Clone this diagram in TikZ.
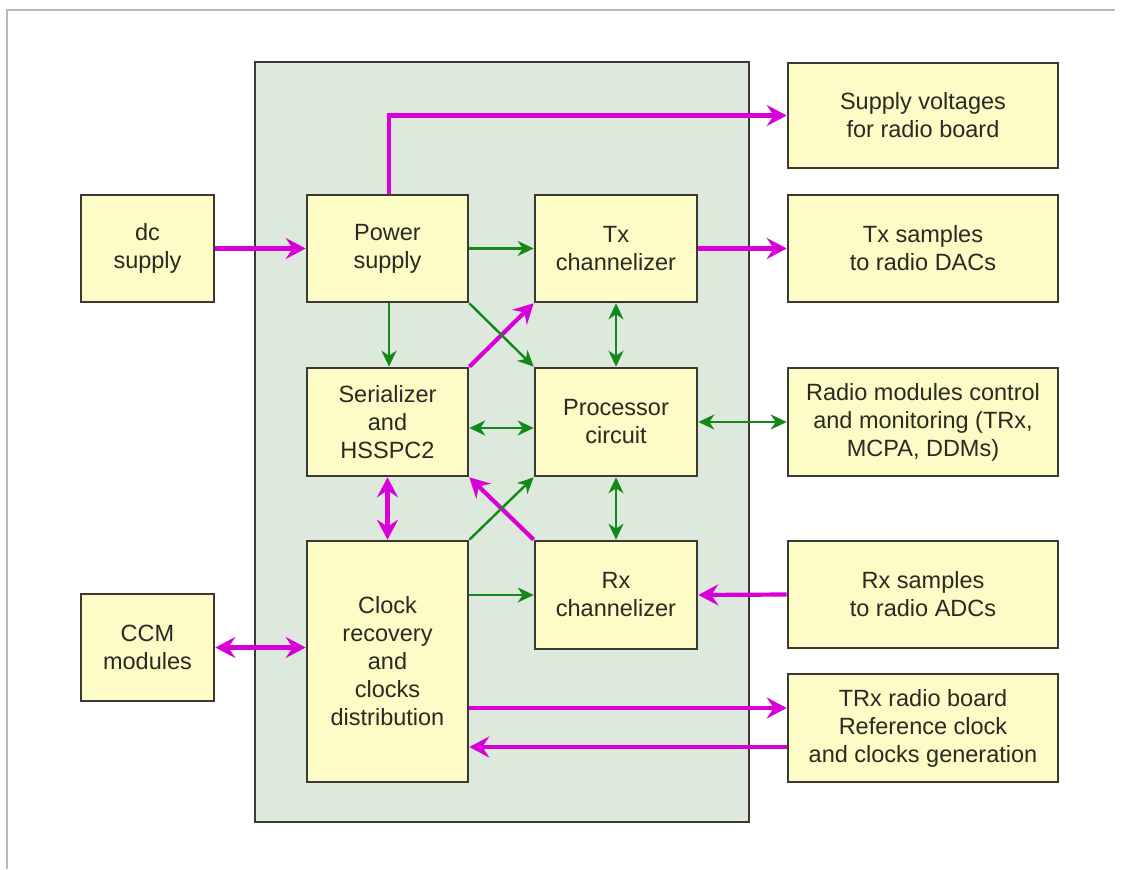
\documentclass[tikz,border=0pt]{standalone}
\usepackage{fontspec}
\setmainfont{Liberation Sans}
\usetikzlibrary{arrows.meta}

\definecolor{panelfill}{HTML}{DDE9DD}
\definecolor{boxfill}{HTML}{FDFBC6}
\definecolor{boxline}{HTML}{3A3A32}
\definecolor{sigmag}{HTML}{D800D8}
\definecolor{ctlgreen}{HTML}{15881A}
\definecolor{txtcol}{HTML}{2A2A22}
\definecolor{framegray}{HTML}{B8B8B8}

\tikzset{
  sigtip/.tip={Stealth[length=20pt,width=21pt,inset=7pt]},
  ctltip/.tip={Stealth[length=16pt,width=15pt,inset=5pt]}
}

\begin{document}
\begin{tikzpicture}[x=1pt,y=-1pt,
  block/.style={draw=boxline, fill=boxfill, line width=2.6pt, inner sep=0pt,
    align=center, text=txtcol,
    font=\fontsize{23.5}{28}\selectfont},
  sig/.style={draw=sigmag, line width=4.2pt, -sigtip},
  sigboth/.style={sig, sigtip-sigtip},
  ctl/.style={draw=ctlgreen, line width=2.4pt, -ctltip},
  ctlboth/.style={ctl, ctltip-ctltip}
]
\useasboundingbox (0,0) rectangle (1123,869);
\fill[white] (0,0) rectangle (1123,869);

% thin page frame
\draw[framegray, line width=2pt] (7,869) -- (7,10) -- (1115,10);

% channel card panel
\draw[draw=boxline, fill=panelfill, line width=2.6pt] (255,62) rectangle (749,822);

% external blocks, left side
\node[block, minimum width=133pt, minimum height=107pt] (dc)  at (147.5,248.5) {dc\\supply};
\node[block, minimum width=133pt, minimum height=107pt] (ccm) at (147.5,647.5) {CCM\\modules};

% blocks on the card
\node[block, minimum width=161pt, minimum height=107pt] (ps)   at (387.5,248.5) {Power\\supply};
\node[block, minimum width=162pt, minimum height=107pt] (tx)   at (616,248.5)   {Tx\\channelizer};
\node[block, minimum width=161pt, minimum height=108pt] (ser)  at (387.5,422)   {Serializer\\and\\HSSPC2};
\node[block, minimum width=162pt, minimum height=108pt] (proc) at (616,422)     {Processor\\circuit};
\node[block, minimum width=161pt, minimum height=241pt] (clk)  at (387.5,661.5) {Clock\\recovery\\and\\clocks\\distribution};
\node[block, minimum width=162pt, minimum height=108pt] (rx)   at (616,595)     {Rx\\channelizer};

% external blocks, right side
\node[block, minimum width=270pt, minimum height=105pt] (sv)  at (923,115.5) {Supply voltages\\for radio board};
\node[block, minimum width=270pt, minimum height=107pt] (txs) at (923,248.5) {Tx samples\\to radio DACs};
\node[block, minimum width=270pt, minimum height=108pt] (rm)  at (923,422)   {Radio modules control\\and monitoring (TRx,\\MCPA, DDMs)};
\node[block, minimum width=270pt, minimum height=107pt] (rxs) at (923,594.5) {Rx samples\\to radio ADCs};
\node[block, minimum width=270pt, minimum height=108pt] (trx) at (923,728)   {TRx radio board\\Reference clock\\and clocks generation};

% port points on the TRx board block
\coordinate (trxin)  at ([yshift=20pt]trx.west);
\coordinate (trxout) at ([yshift=-19pt]trx.west);

% signal paths
\draw[sig] (dc.east) -- (ps.west);
\draw[sig] ([xshift=1.5pt]ps.north) |- (sv.west);
\draw[sig] (tx.east) -- (txs.west);
\draw[sig] (ser.north east) -- (tx.south west);
\draw[sigboth] (ser.south) -- (clk.north);
\draw[sig] (rx.north west) -- (ser.south east);
\draw[sig] (rxs.west) -- (rx.east);
\draw[sigboth] (ccm.east) -- (clk.west |- ccm.east);
\draw[sig] (clk.east |- trxin) -- (trxin);
\draw[sig] (trxout) -- (clk.east |- trxout);

% control and supply paths
\draw[ctl] (ps.east) -- (tx.west);
\draw[ctl] ([xshift=1.5pt]ps.south) -- ([xshift=1.5pt]ser.north);
\draw[ctl] (ps.south east) -- (proc.north west);
\draw[ctlboth] (tx.south) -- (proc.north);
\draw[ctlboth] ([yshift=-6pt]ser.east) -- ([yshift=-6pt]proc.west);
\draw[ctlboth] (proc.east) -- (rm.west);
\draw[ctl] (clk.north east) -- (proc.south west);
\draw[ctlboth] (proc.south) -- (rx.north);
\draw[ctl] (clk.east |- rx.west) -- (rx.west);
\end{tikzpicture}
\end{document}
